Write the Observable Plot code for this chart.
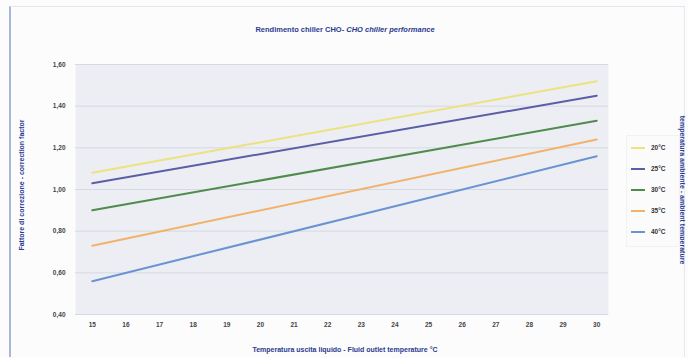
<!DOCTYPE html>
<html><head><meta charset="utf-8">
<script src="https://cdn.jsdelivr.net/npm/d3@7"></script>
<script src="https://cdn.jsdelivr.net/npm/@observablehq/plot@0.6"></script>
<style>
body{margin:0;background:#fff;font-family:"Liberation Sans",Arial,sans-serif;}
#wrap{position:relative;width:688px;height:358px;overflow:hidden;background:#fcfcfd;}
#frame{position:absolute;left:9px;top:6px;width:673px;height:350px;border-left:2px solid #a9b6dc;border-top:1px solid #e3e7f2;border-right:1px solid #e3e7f2;}
.t{position:absolute;color:#2b3a8f;font-weight:bold;font-size:7.5px;white-space:nowrap;}
#legend{position:absolute;left:626px;top:135px;width:52px;height:110px;background:#fbfbfc;border:1px solid #f0f2f6;}
.li{position:absolute;left:4px;font-size:6.5px;color:#333;font-weight:bold;}
.li span{display:inline-block;width:14px;height:2px;vertical-align:middle;margin-right:6px;}
</style></head>
<body>
<div id="wrap"><div id="frame"></div></div>
<script>
const temps = ["20°C","25°C","30°C","35°C","40°C"];
const colors = ["#ece27e","#5b5ea6","#4f8c4c","#f2b26c","#6a93d2"];
const xEnds = [15, 30];
const v20 = [1.08, 1.52];
const v25 = [1.03, 1.45];
const v30 = [0.90, 1.33];
const v35 = [0.73, 1.24];
const v40 = [0.56, 1.16];
const xTicks = [15,16,17,18,19,20,21,22,23,24,25,26,27,28,29,30];
const yTicks = [0.40,0.60,0.80,1.00,1.20,1.40,1.60];
const titleA = "Rendimento chiller CHO- ";
const titleB = "CHO chiller performance";
const yTitle = "Fattore di correzione - correction factor";
const xTitle = "Temperatura uscita liquido - Fluid outlet temperature °C";
const rTitle = "temperatura ambiente - ambient temperature";

const series = [v20,v25,v30,v35,v40];
const rows = [];
series.forEach((vals,i)=>vals.forEach((v,j)=>rows.push({x:xEnds[j],y:v,t:temps[i]})));
const fmt = d=>d.toFixed(2).replace(".",",");

const chart = Plot.plot({
  width:688, height:358,
  marginLeft:75, marginRight:80, marginTop:64, marginBottom:44,
  style:{background:"transparent",fontFamily:"Liberation Sans, Arial, sans-serif",fontSize:"6.5px",color:"#333"},
  x:{domain:[14.5,30.35], label:null},
  y:{domain:[0.4,1.6], label:null},
  color:{domain:temps, range:colors},
  marks:[
    Plot.frame({fill:"#eceef3", stroke:null}),
    Plot.ruleY(yTicks,{stroke:"#d6d9e1", strokeWidth:1}),
    Plot.line(rows,{x:"x",y:"y",stroke:"t",strokeWidth:2}),
    Plot.axisX({ticks:xTicks, tickSize:0, tickPadding:8, fontWeight:"bold", fill:"#444", tickFormat:d=>d}),
    Plot.axisY({ticks:yTicks, tickSize:0, tickPadding:10, fontWeight:"bold", fill:"#444", tickFormat:fmt})
  ]
});
chart.style.position="absolute"; chart.style.left="0"; chart.style.top="0";
const wrap = document.getElementById("wrap");
wrap.appendChild(chart);

function addText(txt, css){const d=document.createElement("div");d.className="t";d.textContent=txt;Object.assign(d.style,css);wrap.appendChild(d);return d;}
const tt = addText(titleA,{left:"345px",top:"25px",transform:"translateX(-50%)"});
const it = document.createElement("i"); it.textContent = titleB; tt.appendChild(it);
addText(xTitle,{left:"345px",top:"346px",transform:"translateX(-50%)",fontSize:"7px"});
addText(yTitle,{left:"21px",top:"185px",transform:"translate(-50%,-50%) rotate(-90deg)",fontSize:"7px"});
addText(rTitle,{left:"682px",top:"190px",transform:"translate(-50%,-50%) rotate(90deg)",fontSize:"7px"});

const lg=document.createElement("div");lg.id="legend";wrap.appendChild(lg);
temps.forEach((t,i)=>{const r=document.createElement("div");r.className="li";r.style.top=(8+i*21)+"px";
 const s=document.createElement("span");s.style.background=colors[i];r.appendChild(s);r.appendChild(document.createTextNode(t));lg.appendChild(r);});
</script>
</body></html>
